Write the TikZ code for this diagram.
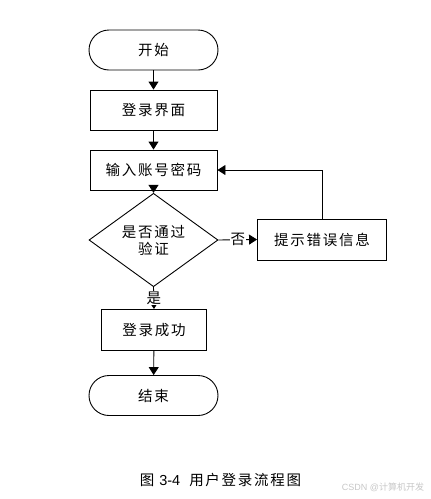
\documentclass[tikz,border=0pt]{standalone}
\usepackage{fontspec}
\setmainfont{Noto Sans CJK SC}[LetterSpace=12]
\newfontfamily\latinfont{Liberation Sans}
\newfontfamily\wmfont{Noto Sans CJK SC}
\usetikzlibrary{shapes.geometric,arrows.meta}
\begin{document}
\begin{tikzpicture}[x=1pt,y=-1pt,
  every node/.style={font=\fontsize{14.5}{16}\selectfont},
  box/.style={draw, line width=0.9pt, rectangle, inner sep=0pt, minimum height=40pt},
  term/.style={draw, line width=0.9pt, rectangle, rounded corners=20pt, inner sep=0pt, minimum width=129pt, minimum height=40pt},
  decide/.style={draw, line width=0.9pt, diamond, inner sep=0pt, minimum width=129pt, minimum height=60pt, align=center},
  arr/.style={line width=0.9pt, -{Triangle[length=8pt,width=10pt]}},
  lbl/.style={fill=white, inner sep=1pt}]
\useasboundingbox (0,0) rectangle (431,499);
\node[term] (start) at (153.5,50) {开始};
\node[box, minimum width=127pt] (login) at (153.5,110) {登录界面};
\node[box, minimum width=127pt] (input) at (153.5,170) {输入账号密码};
\node[decide, font=\fontsize{14.5}{17}\selectfont] (check) at (153.5,240) {是否通过\\验证};
\node[box, minimum width=129pt, minimum height=41pt] (err) at (322,239.5) {提示错误信息};
\node[box, minimum width=105pt, minimum height=41pt] (ok) at (154,330) {登录成功};
\node[term] (end) at (153.5,395.5) {结束};
\coordinate (corner) at (322,170);
\draw[arr] (start) -- (login);
\draw[arr] (login) -- (input);
\draw[arr] (input) -- (check);
\draw[arr] (check.east) -- node[lbl] {否} (err.west);
\draw[arr] (err.north) -- (corner) -- (input.east);
\draw[arr] (check.south) -- node[lbl] {是} (ok.north);
\draw[arr] (ok) -- (end);
\node (cap) at (220.5,480) {图 {\latinfont 3-4}\; 用户登录流程图};
\node[text=black!22, font=\wmfont\fontsize{9}{10}\selectfont] (wm) at (383,487) {{\latinfont CSDN @}计算机开发};
\end{tikzpicture}
\end{document}
